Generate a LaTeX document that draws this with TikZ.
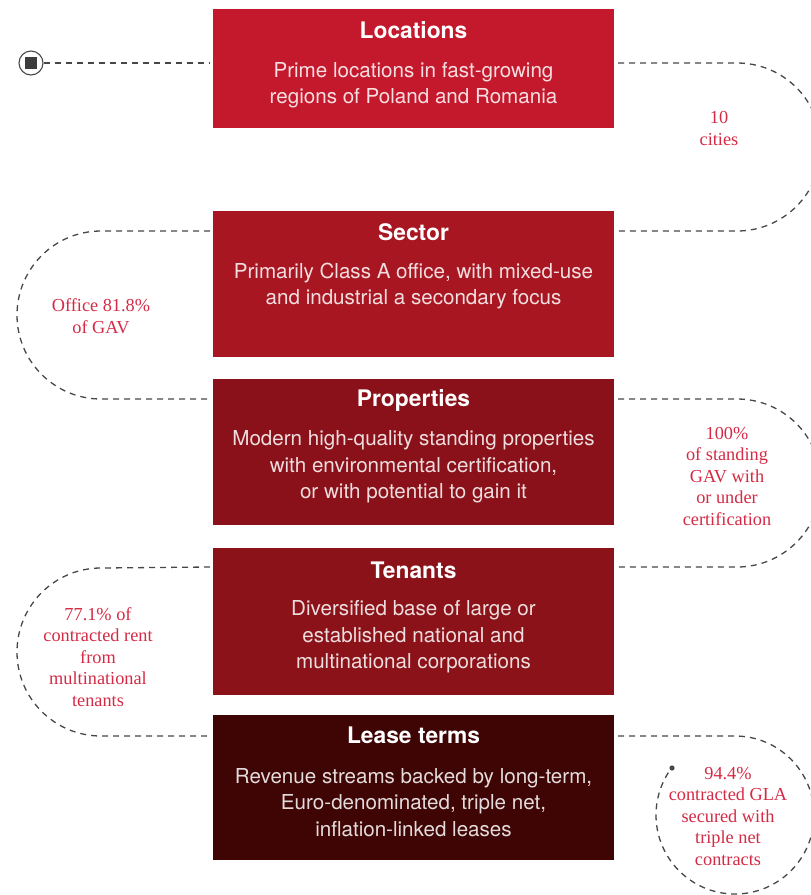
\documentclass[tikz,border=0pt]{standalone}
\usepackage{fontspec}
\setmainfont{Liberation Serif}
\newfontfamily\hv{TeX Gyre Heros}
\usetikzlibrary{calc}
\definecolor{cLoc}{HTML}{C4182C}
\definecolor{cSec}{HTML}{A81622}
\definecolor{cPro}{HTML}{8A1119}
\definecolor{cTen}{HTML}{8A1218}
\definecolor{cLea}{HTML}{3F0404}
\definecolor{note}{HTML}{D42A45}
\definecolor{trail}{HTML}{474747}
\tikzset{
  stage/.style={draw=none, minimum width=401pt, inner sep=0pt, outer sep=0pt},
  stagetitle/.style={text=white, font=\hv\bfseries\fontsize{22.8}{26}\selectfont, inner sep=0pt},
  stagebody/.style={text=white, text opacity=0.86, align=center, inner sep=0pt,
    font=\hv\fontsize{20.6}{26.5}\selectfont},
  remark/.style={text=note, align=center, inner sep=0pt,
    font=\fontsize{18.3}{21.5}\selectfont},
  trailline/.style={draw=trail, line width=1.3pt, dash pattern=on 6pt off 5pt},
}
\begin{document}
\begin{tikzpicture}[x=1pt,y=-1pt]
\useasboundingbox (0,0) rectangle (811,895);
\clip (0,0) rectangle (811,895);

% stage boxes
\node[stage, fill=cLoc, minimum height=119pt] (loc) at (413.5,68.5) {};
\node[stage, fill=cSec, minimum height=146pt] (sec) at (413.5,284) {};
\node[stage, fill=cPro, minimum height=146pt] (pro) at (413.5,452) {};
\node[stage, fill=cTen, minimum height=147pt] (ten) at (413.5,621.5) {};
\node[stage, fill=cLea, minimum height=145pt] (lea) at (413.5,787.5) {};

% titles and descriptions
\node[stagetitle] (locT) at (413.5,30) {Locations};
\node[stagebody] (locB) at (413.5,85) {Prime locations in fast-growing\\regions of Poland and Romania};
\node[stagetitle] (secT) at (413.5,232) {Sector};
\node[stagebody] (secB) at (413.5,286) {Primarily Class A office, with mixed-use\\and industrial a secondary focus};
\node[stagetitle] (proT) at (413.5,400) {Properties};
\node[stagebody] (proB) at (413.5,467) {Modern high-quality standing properties\\with environmental certification,\\or with potential to gain it};
\node[stagetitle] (tenT) at (413.5,570) {Tenants};
\node[stagebody] (tenB) at (413.5,637) {Diversified base of large or\\established national and\\multinational corporations};
\node[stagetitle] (leaT) at (413.5,735) {Lease terms};
\node[stagebody] (leaB) at (413.5,802.5) {Revenue streams backed by long-term,\\Euro-denominated, triple net,\\inflation-linked leases};

% start marker
\node[circle, draw=trail, line width=1.1pt, minimum size=24pt, inner sep=0pt] (start) at (31,63) {};
\node[fill=trail!85!black, minimum size=12pt, inner sep=0pt] (startsq) at (31,63) {};

% trail end points beside the boxes
\coordinate (l1) at ($(loc.west)+(-3,-5.5)$);
\coordinate (r1) at ($(loc.east)+(4,-5.5)$);
\coordinate (r2) at ($(sec.north east)+(4,20)$);
\coordinate (l2) at ($(sec.north west)+(-3,20)$);
\coordinate (l3) at ($(pro.north west)+(-3,20)$);
\coordinate (r3) at ($(pro.north east)+(4,20)$);
\coordinate (r4) at ($(ten.north east)+(4,19)$);
\coordinate (l4) at ($(ten.north west)+(-3,19)$);
\coordinate (l5) at ($(lea.north west)+(-3,21)$);
\coordinate (r5) at ($(lea.north east)+(4,21)$);
\coordinate (finish) at (672,768);

% dashed trail
\draw[trailline] (start.east) -- (l1);
\draw[trailline] (r1) -- (737,63) arc[start angle=-90, end angle=90, radius=84] -- (r2);
\draw[trailline] (l2) -- (101,231) arc[start angle=270, end angle=90, radius=84] -- (l3);
\draw[trailline] (r3) -- (737,399) arc[start angle=-90, end angle=90, radius=84] -- (r4);
\draw[trailline] (l4) -- (101,568) arc[start angle=270, end angle=90, radius=84] -- (l5);
\draw[trailline] (r5) -- (735,736) arc[start angle=-90, end angle=216.7, radius=79];
\fill[trail] (finish) circle (2.6pt);

% remarks
\node[remark] (n1) at (719,128.5) {10\\cities};
\node[remark] (n2) at (101,316) {Office 81.8\%\\of GAV};
\node[remark] (n3) at (727,476) {100\%\\of standing\\GAV with\\or under\\certification};
\node[remark] (n4) at (98,657) {77.1\% of\\contracted rent\\from\\multinational\\tenants};
\node[remark] (n5) at (728,816) {94.4\%\\contracted GLA\\secured with\\triple net\\contracts};
\end{tikzpicture}
\end{document}
